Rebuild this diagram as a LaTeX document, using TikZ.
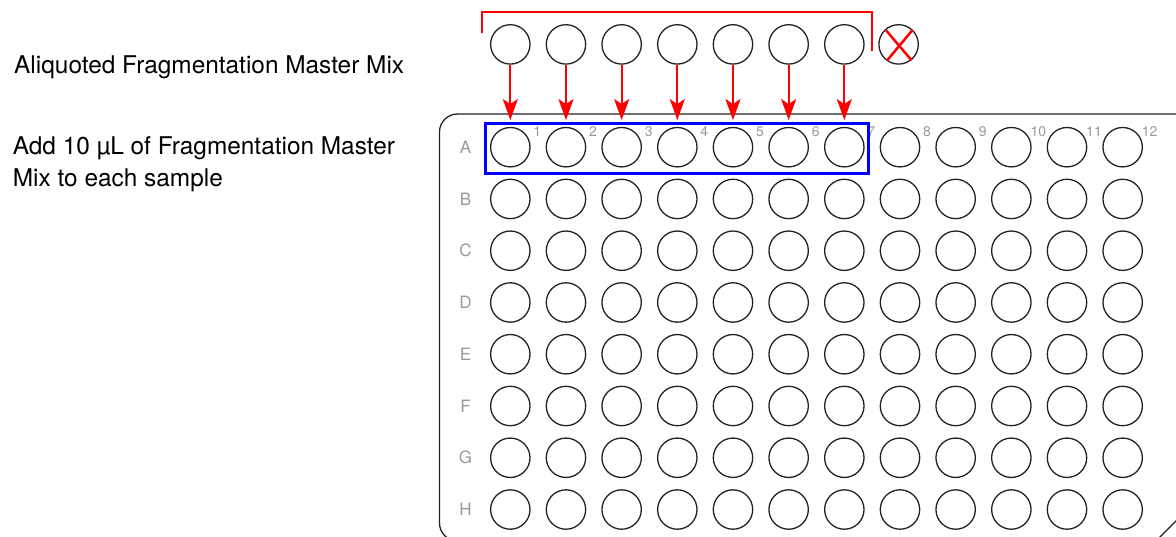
\documentclass[tikz,border=0pt]{standalone}
\usepackage{fontspec}
\setmainfont{TeX Gyre Heros}
\usetikzlibrary{arrows.meta,positioning,calc}
\definecolor{mixred}{HTML}{FF0000}
\definecolor{selblue}{HTML}{0000FF}
\definecolor{wellink}{HTML}{222222}
\definecolor{lblgray}{HTML}{999999}
\tikzset{
  well/.style={circle, draw=wellink, line width=1.3pt, minimum size=39.4pt, inner sep=0pt},
  tube/.style={well},
  rowlbl/.style={font=\fontsize{17}{17}\selectfont, color=lblgray, inner sep=0pt},
  collbl/.style={font=\fontsize{14}{14}\selectfont, color=lblgray, inner sep=0pt},
  note/.style={font=\fontsize{24.4}{31.7}\selectfont, align=left, inner sep=0pt},
  feed/.style={-{Stealth[length=21pt, width=15pt, inset=5pt]}, line width=2pt, color=mixred},
  bracket/.style={draw=mixred, line width=2pt},
  cross/.style={draw=mixred, line width=2.5pt},
  selbox/.style={draw=selblue, line width=3pt},
  plate/.style={draw=wellink, line width=1.3pt},
}
\begin{document}
\begin{tikzpicture}[x=1pt, y=-1pt]
  \useasboundingbox (0,0) rectangle (1176,537);
  % texts on the left
  \node[note, anchor=base west] (aliq) at (14,73.3) {Aliquoted Fragmentation Master Mix};
  \node[note, anchor=base west] (addmix) at (12.7,186.7) {Add 10 µL of Fragmentation Master\\Mix to each sample};
  % plate outline
  \draw[plate, rounded corners=18pt] (1156,541) -- (439.5,541) -- (439.5,114) -- (1180,114);
  \draw[plate] (1180,517) -- (1156,541);
  % wells and row labels
  \foreach \r [count=\ri from 0] in {A,...,H} {
    \node[rowlbl] (r-\r) at (465.5, 147.2+51.76*\ri) {\r};
    \foreach \c in {1,...,12}
      \node[well] (w-\r-\c) at (510.3+55.67*\c-55.67, 147.2+51.76*\ri) {};
  }
  \foreach \c in {1,...,12}
    \node[collbl] (c-\c) at ($(w-A-\c.center)+(27,-15.8)$) {\c};
  % aliquoted tubes
  \foreach \i in {1,...,7} {
    \node[tube, above=62.1pt of w-A-\i] (t\i) {};
    \draw[feed, shorten >=6.8pt] (t\i) -- (w-A-\i);
  }
  \node[tube, right=13.6pt of t7] (t8) {};
  \draw[cross] ($(t8.center)+(-12.5,-14)$) -- ($(t8.center)+(13,16)$);
  \draw[cross] ($(t8.center)+(14,-14.5)$) -- ($(t8.center)+(-11.5,16)$);
  \draw[bracket] ($(t1.west)+(-8.3,-11.4)$) |- ($(t7.east)+(7,-32.4)$) -- ($(t7.east)+(7,6.3)$);
  % selected row
  \draw[selbox] ($(w-A-1.west |- w-A-1.north)+(-4,-3.5)$) rectangle ($(w-A-7.east |- w-A-7.south)+(4.3,5.8)$);
\end{tikzpicture}
\end{document}
